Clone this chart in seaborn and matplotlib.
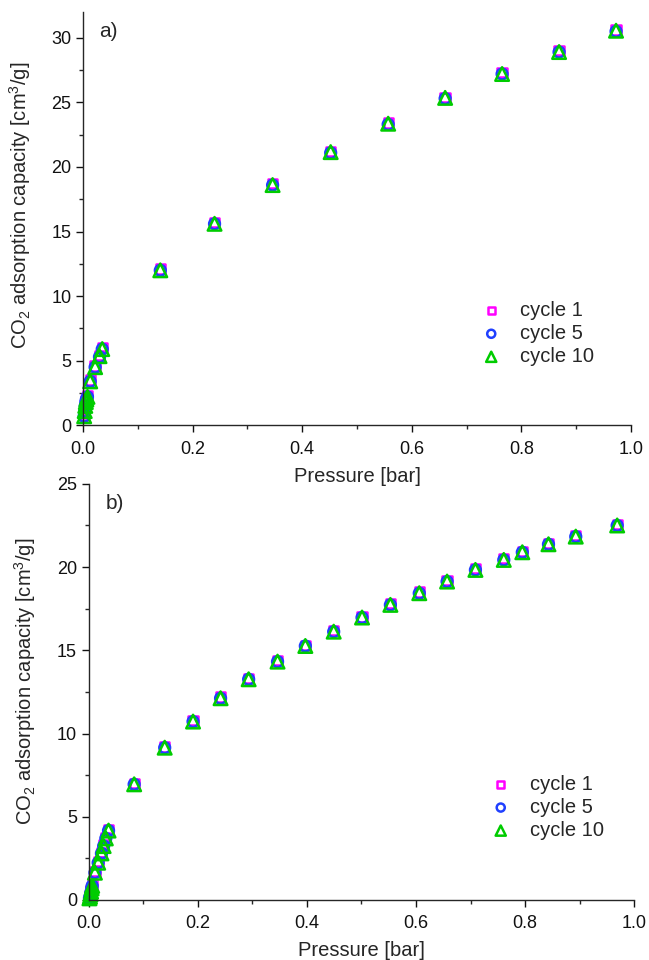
import matplotlib
matplotlib.use('Agg')
import matplotlib.pyplot as plt
import seaborn as sns
from matplotlib.ticker import MultipleLocator, FormatStrFormatter

# panel a) data
pa_x = [0.002, 0.003, 0.004, 0.005, 0.006, 0.008, 0.013, 0.022, 0.030, 0.035,
        0.141, 0.240, 0.346, 0.452, 0.557, 0.661, 0.765, 0.869, 0.973]
pa_c1 = [0.8, 1.2, 1.6, 1.9, 2.1, 2.3, 3.5, 4.6, 5.4, 6.0,
         12.1, 15.7, 18.7, 21.2, 23.4, 25.4, 27.3, 29.0, 30.6]
pa_c5 = [0.7, 1.1, 1.5, 1.8, 2.0, 2.2, 3.4, 4.5, 5.3, 5.9,
         12.0, 15.6, 18.6, 21.1, 23.3, 25.3, 27.2, 28.9, 30.5]
pa_c10 = [0.7, 1.1, 1.5, 1.8, 2.0, 2.2, 3.4, 4.5, 5.35, 5.9,
          12.0, 15.6, 18.6, 21.15, 23.35, 25.35, 27.2, 28.9, 30.55]

# panel b) data
pb_x = [0.001, 0.002, 0.003, 0.004, 0.005, 0.006, 0.011, 0.017, 0.023, 0.027,
        0.031, 0.036, 0.083, 0.139, 0.191, 0.2415, 0.293, 0.346, 0.397, 0.449,
        0.501, 0.553, 0.606, 0.657, 0.709, 0.761, 0.795, 0.843, 0.893, 0.969]
pb_c1 = [0.15, 0.25, 0.4, 0.55, 0.75, 0.9, 1.7, 2.3, 2.85, 3.3,
         3.75, 4.25, 7.0, 9.2, 10.8, 12.2, 13.3, 14.4, 15.3, 16.2,
         17.0, 17.8, 18.5, 19.2, 19.9, 20.5, 20.95, 21.4, 21.9, 22.55]
pb_c5 = [0.1, 0.2, 0.35, 0.5, 0.7, 0.85, 1.64, 2.24, 2.8, 3.24,
         3.7, 4.17, 6.95, 9.15, 10.72, 12.12, 13.26, 14.32, 15.26, 16.12,
         16.97, 17.73, 18.43, 19.13, 19.83, 20.43, 20.89, 21.37, 21.83, 22.5]
pb_c10 = [0.1, 0.2, 0.35, 0.5, 0.7, 0.85, 1.64, 2.24, 2.8, 3.24,
          3.7, 4.17, 6.95, 9.15, 10.72, 12.12, 13.26, 14.32, 15.26, 16.12,
          16.97, 17.73, 18.43, 19.13, 19.83, 20.43, 20.89, 21.37, 21.83, 22.5]

labels = ['cycle 1', 'cycle 5', 'cycle 10']
markers = ['s', 'o', '^']
sizes = [45, 60, 95]
colors = ['#ff00ff', '#2040ff', '#00cc00']

sns.set_style('ticks')
plt.rcParams['font.family'] = ['Liberation Sans', 'DejaVu Sans']
plt.rcParams['mathtext.default'] = 'regular'

fig = plt.figure(figsize=(6.49, 9.6), dpi=100)
ax_a = fig.add_axes([0.128, 0.557, 0.844, 0.4305])
ax_b = fig.add_axes([0.137, 0.0625, 0.84, 0.4335])
# keep panel a's x label on top of panel b's background
ax_a.set_zorder(2)
ax_b.patch.set_visible(False)

ylabel = 'CO$_2$ adsorption capacity [cm$^3$/g]'


def draw_panel(ax, x, series, ymax, tag, leg_anchor, xpad):
    for ys, lab, m, sz, c in zip(series, labels, markers, sizes, colors):
        sns.scatterplot(x=x, y=ys, ax=ax, marker=m, s=sz, facecolors='none',
                        edgecolors=c, linewidths=1.8, label=lab, clip_on=False)
    ax.set_xlim(0, 1.0)
    ax.set_ylim(0, ymax)
    ax.xaxis.set_major_locator(MultipleLocator(0.2))
    ax.xaxis.set_minor_locator(MultipleLocator(0.1))
    ax.yaxis.set_major_locator(MultipleLocator(5))
    ax.yaxis.set_minor_locator(MultipleLocator(2.5))
    ax.tick_params(which='major', direction='out', length=5, width=1, labelsize=13, colors='#111111')
    ax.tick_params(which='minor', direction='out', length=3, width=1)
    ax.tick_params(axis='x', which='major', pad=6)
    ax.xaxis.set_major_formatter(FormatStrFormatter('%.1f'))
    sns.despine(ax=ax)
    for sp in ['left', 'bottom']:
        ax.spines[sp].set_linewidth(1.0)
    ax.set_xlabel('Pressure [bar]', fontsize=14.5, labelpad=xpad)
    ax.set_ylabel(ylabel, fontsize=14.5)
    ax.text(0.03, 0.975, tag, transform=ax.transAxes, fontsize=15, va='top')
    ax.legend(loc='upper left', bbox_to_anchor=leg_anchor, frameon=False,
              fontsize=14.5, handletextpad=0.45, labelspacing=0.2,
              borderpad=0, markerscale=0.75)


draw_panel(ax_a, pa_x, [pa_c1, pa_c5, pa_c10], 32, 'a)', (0.69, 0.325), 7)
draw_panel(ax_b, pb_x, [pb_c1, pb_c5, pb_c10], 25, 'b)', (0.70, 0.325), 6)
ax_a.yaxis.set_label_coords(-0.091, 0.533)
ax_b.yaxis.set_label_coords(-0.093, 0.526)

fig.savefig('out.png', dpi=100)
